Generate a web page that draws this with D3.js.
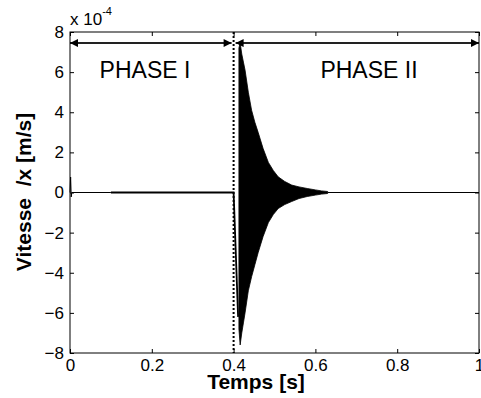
<!DOCTYPE html>
<html>
<head>
<meta charset="utf-8">
<script src="https://cdn.jsdelivr.net/npm/d3@7"></script>
<style>
  body { margin: 0; background: #fff; }
  text { font-family: "Liberation Sans", Arial, sans-serif; fill: #000; }
</style>
</head>
<body>
<div id="chart-area"></div>
<script>
// values, velocity in units of 1e-4 m/s
var xTicks = [0, 0.2, 0.4, 0.6, 0.8, 1];
var yTicks = [-8, -6, -4, -2, 0, 2, 4, 6, 8];

// phase I trace (start spike, flat, first drop at the impact)
var traceT = [0, 0.0015, 0.003, 0.0045, 0.1, 0.4, 0.411];
var traceV = [0, 0.77, -0.22, 0, 0, 0, -6.2];

// phase II envelope of the fast oscillation
var envT  = [0.413, 0.416, 0.420, 0.424, 0.428, 0.436, 0.444, 0.452, 0.460, 0.472, 0.485, 0.497, 0.509, 0.525, 0.542, 0.560, 0.580, 0.600, 0.615, 0.63];
var envUp = [7.2, 7.46, 6.9, 6.5, 6.1, 5.0, 4.1, 3.5, 3.0, 2.2, 1.5, 1.1, 0.78, 0.55, 0.37, 0.28, 0.2, 0.13, 0.08, 0.05];
var envLo = [-6.8, -7.6, -7.0, -6.5, -6.0, -4.9, -4.2, -3.6, -3.0, -2.2, -1.5, -1.1, -0.8, -0.6, -0.45, -0.3, -0.2, -0.13, -0.08, -0.05];

// tail after the decay
var tailT = [0.63, 1];
var tailV = [0, 0];

var phaseNames = ["PHASE I", "PHASE II"];
var phaseLimits = [0, 0.4, 1];

var margin = { left: 70, right: 2, top: 32, bottom: 45 };
var width = 481 - margin.left - margin.right,
    height = 398 - margin.top - margin.bottom;

var svg = d3.select("#chart-area")
  .append("svg")
    .attr("width", 481)
    .attr("height", 398);

var defs = svg.append("defs");
defs.append("marker")
    .attr("id", "arrow")
    .attr("viewBox", "0 0 10 10")
    .attr("refX", 10)
    .attr("refY", 5)
    .attr("markerUnits", "userSpaceOnUse")
    .attr("markerWidth", 9)
    .attr("markerHeight", 8)
    .attr("orient", "auto-start-reverse")
  .append("path")
    .attr("d", "M0,0L10,5L0,10Z")
    .attr("fill", "#000");

var g = svg.append("g")
    .attr("transform", "translate(" + margin.left + ", " + margin.top + ")");

const x = d3.scaleLinear().domain([0, 1]).range([0, width]);
const y = d3.scaleLinear().domain([-8, 8]).range([height, 0]);

// axes, ticks pointing inwards
const styleAxis = (sel, labels) => {
  sel.select(".domain").remove();
  sel.selectAll("line").attr("stroke", "#000");
  sel.selectAll("text").attr("font-size", "17px").attr("fill", "#000");
  if (!labels) sel.selectAll("text").remove();
};

g.append("g")
  .attr("transform", "translate(0, " + height + ")")
  .call(d3.axisBottom(x).tickValues(xTicks).tickSize(-4).tickPadding(6).tickFormat(d3.format("")))
  .call(styleAxis, true);

g.append("g")
  .call(d3.axisTop(x).tickValues(xTicks).tickSize(-4))
  .call(styleAxis, false);

g.append("g")
  .call(d3.axisLeft(y).tickValues(yTicks).tickSize(-4).tickPadding(6).tickFormat(d3.format("")))
  .call(styleAxis, true);

g.append("g")
  .attr("transform", "translate(" + width + ", 0)")
  .call(d3.axisRight(y).tickValues(yTicks).tickSize(-4))
  .call(styleAxis, false);

// signal
const line = d3.line().x(d => x(d[0])).y(d => y(d[1]));

g.append("path")
  .datum(d3.zip(traceT, traceV).slice(0, 5))
  .attr("d", line)
  .attr("fill", "none")
  .attr("stroke", "#000")
  .attr("stroke-width", 1);

g.append("path")
  .datum(d3.zip(traceT, traceV).slice(4))
  .attr("d", line)
  .attr("fill", "none")
  .attr("stroke", "#000")
  .attr("stroke-width", 1.8);

const area = d3.area()
  .x(d => x(d[0]))
  .y0(d => y(d[2]))
  .y1(d => y(d[1]));

g.append("path")
  .datum(d3.zip(envT, envUp, envLo))
  .attr("d", area)
  .attr("fill", "#000")
  .attr("stroke", "#000")
  .attr("stroke-width", 0.8);

g.append("path")
  .datum(d3.zip(tailT, tailV))
  .attr("d", line)
  .attr("fill", "none")
  .attr("stroke", "#000")
  .attr("stroke-width", 1);

// phase separator
g.append("line")
  .attr("x1", x(0.4)).attr("x2", x(0.4))
  .attr("y1", 0).attr("y2", height)
  .attr("stroke", "#000")
  .attr("stroke-width", 2)
  .attr("stroke-dasharray", "2,2");

// phase arrows
const arrowY = y(7.45);
phaseNames.forEach((name, i) => {
  const x0 = x(phaseLimits[i]) + (i === 0 ? 0 : 2),
        x1 = x(phaseLimits[i + 1]) - (i === 0 ? 2 : 0);
  g.append("line")
    .attr("x1", x0).attr("x2", x1)
    .attr("y1", arrowY).attr("y2", arrowY)
    .attr("stroke", "#222")
    .attr("stroke-width", 2)
    .attr("marker-start", "url(#arrow)")
    .attr("marker-end", "url(#arrow)");
});

g.append("text")
  .attr("x", 75)
  .attr("y", 46)
  .attr("font-size", "23px")
  .attr("text-anchor", "middle")
  .text(phaseNames[0]);

g.append("text")
  .attr("x", 299)
  .attr("y", 46)
  .attr("font-size", "23px")
  .attr("text-anchor", "middle")
  .text(phaseNames[1]);

// frame
g.append("rect")
  .attr("width", width)
  .attr("height", height)
  .attr("fill", "none")
  .attr("stroke", "#000")
  .attr("stroke-width", 1);

// exponent
var expo = svg.append("text")
  .attr("x", 70)
  .attr("y", 25)
  .attr("font-size", "17px");
expo.append("tspan").text("x 10");
expo.append("tspan").attr("dy", -10).attr("font-size", "11px").text("-4");

// X Label
svg.append("text")
  .attr("x", 256)
  .attr("y", 389)
  .attr("font-size", "21px")
  .attr("font-weight", "bold")
  .attr("text-anchor", "middle")
  .text("Temps [s]");

// Y Label
svg.append("text")
  .attr("transform", "translate(31, 192) rotate(-90)")
  .attr("font-size", "21px")
  .attr("font-weight", "bold")
  .attr("text-anchor", "middle")
  .style("white-space", "pre")
  .text("Vitesse  /x [m/s]");
</script>
</body>
</html>
